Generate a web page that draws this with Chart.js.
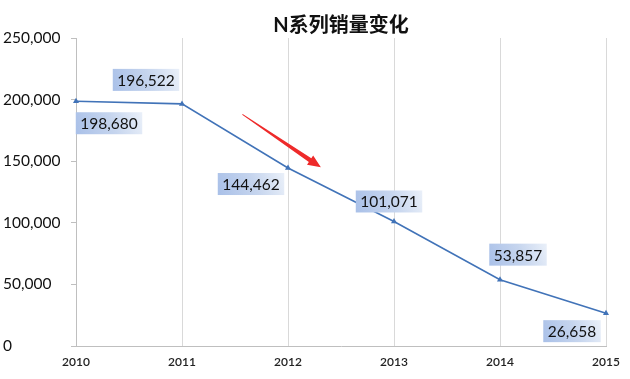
<!DOCTYPE html>
<html>
<head>
<meta charset="utf-8">
<script src="https://cdn.jsdelivr.net/npm/chart.js@4/dist/chart.umd.min.js"></script>
<style>
html,body{margin:0;padding:0;background:#fff;}
#wrap{width:630px;height:379px;position:relative;}
</style>
</head>
<body>
<div id="wrap"><canvas id="c" width="630" height="379"></canvas></div>
<script>
// ---- data ----
const years = ['2010', '2011', '2012', '2013', '2014', '2015'];
const sales = [198680, 196522, 144462, 101071, 53857, 26658];
const chartTitle = 'N系列销量变化';
const yTicks = [0, 50000, 100000, 150000, 200000, 250000];
// annotation arrow, in data units (category index, value)
const arrowFrom = [1.57, 188000];
const arrowTo = [2.31, 145000];

// ---- styles ----
const labelOffsets = [[33, 22], [-36, -24], [-37, 16], [-5, -20], [18, -25], [-34, 18]];
const FONT = "Lato, 'Noto Sans CJK SC', sans-serif";

const dataLabelPlugin = {
  id: 'boxLabels',
  afterDatasetsDraw(chart) {
    const ctx = chart.ctx;
    const meta = chart.getDatasetMeta(0);
    ctx.save();
    ctx.font = '15.5px ' + FONT;
    ctx.textBaseline = 'middle';
    ctx.textAlign = 'center';
    meta.data.forEach((pt, i) => {
      const txt = sales[i].toLocaleString('en-US');
      const off = labelOffsets[i];
      const cx = pt.x + off[0], cy = pt.y + off[1];
      const w = ctx.measureText(txt).width + 9;
      const h = 22;
      const x0 = cx - w / 2, y0 = cy - h / 2;
      const g = ctx.createLinearGradient(x0, y0 + h, x0 + w, y0);
      g.addColorStop(0, '#a9c0e8');
      g.addColorStop(0.55, '#c6d5ee');
      g.addColorStop(1, '#eaf0f9');
      ctx.fillStyle = g;
      ctx.fillRect(x0, y0, w, h);
      ctx.fillStyle = '#111';
      ctx.fillText(txt, cx, cy + 1);
    });
    ctx.restore();
  }
};

const arrowPlugin = {
  id: 'arrow',
  afterDatasetsDraw(chart) {
    const xs = chart.scales.x, ys = chart.scales.y, ctx = chart.ctx;
    const x1 = xs.getPixelForValue(arrowFrom[0]), y1 = ys.getPixelForValue(arrowFrom[1]);
    const x2 = xs.getPixelForValue(arrowTo[0]), y2 = ys.getPixelForValue(arrowTo[1]);
    const dx = x2 - x1, dy = y2 - y1, len = Math.hypot(dx, dy);
    const ux = dx / len, uy = dy / len, nx = -uy, ny = ux;
    const headL = 13, headW = 5.5, tailW = 0.4, neckW = 2.2;
    const bx = x2 - ux * headL, by = y2 - uy * headL;
    ctx.save();
    ctx.fillStyle = '#ee2a2a';
    ctx.beginPath();
    ctx.moveTo(x1 + nx * tailW, y1 + ny * tailW);
    ctx.lineTo(bx + nx * neckW, by + ny * neckW);
    ctx.lineTo(bx + nx * headW, by + ny * headW);
    ctx.lineTo(x2, y2);
    ctx.lineTo(bx - nx * headW, by - ny * headW);
    ctx.lineTo(bx - nx * neckW, by - ny * neckW);
    ctx.lineTo(x1 - nx * tailW, y1 - ny * tailW);
    ctx.closePath();
    ctx.fill();
    ctx.restore();
  }
};

new Chart(document.getElementById('c'), {
  type: 'line',
  data: {
    labels: years,
    datasets: [{
      data: sales,
      borderColor: '#4173b8',
      backgroundColor: '#4173b8',
      borderWidth: 1.6,
      pointStyle: 'triangle',
      pointRadius: 3.5,
      pointBorderWidth: 0,
      tension: 0,
      fill: false
    }]
  },
  options: {
    responsive: false,
    animation: false,
    devicePixelRatio: 1,
    layout: { padding: { left: 3, right: 24, top: 0, bottom: 0 } },
    plugins: {
      legend: { display: false },
      tooltip: { enabled: false },
      title: {
        display: true,
        text: chartTitle,
        fullSize: false,
        color: '#111',
        font: { family: FONT, size: 20, weight: 'bold', lineHeight: 1.2 },
        padding: { top: 14, bottom: 0 }
      }
    },
    scales: {
      x: {
        type: 'category',
        offset: false,
        grid: { color: '#d9d9d9', lineWidth: 1, tickLength: 0, drawTicks: false },
        border: { color: '#bfbfbf' },
        ticks: { color: '#222', font: { family: FONT, size: 12, weight: '600' }, padding: 9, maxRotation: 0, autoSkip: false },
        afterFit(s) { s.height = 33; }
      },
      y: {
        min: 0, max: 250000,
        afterBuildTicks(s) { s.ticks = yTicks.map(v => ({ value: v })); },
        grid: { drawOnChartArea: false, tickLength: 5, color: '#bfbfbf' },
        border: { color: '#bfbfbf' },
        ticks: { color: '#111', crossAlign: 'far', padding: 10, font: { family: FONT, size: 15.5 } },
        afterFit(s) { s.width = 73; }
      }
    }
  },
  plugins: [dataLabelPlugin, arrowPlugin]
});
</script>
</body>
</html>
